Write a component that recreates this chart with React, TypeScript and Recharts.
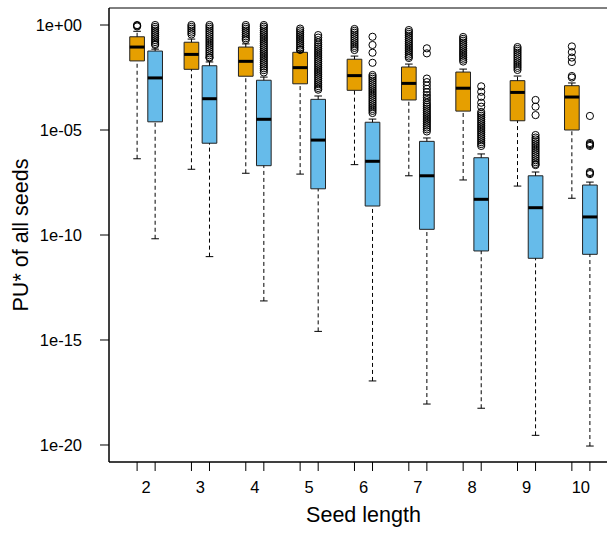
import React from 'react';
import {
  ComposedChart,
  XAxis,
  YAxis,
  Scatter,
  ReferenceArea,
  ReferenceLine,
} from 'recharts';

const seedLengths = [2, 3, 4, 5, 6, 7, 8, 9, 10];

// log10(PU*) per seed length: [lower whisker, Q1, median, Q3, upper whisker]
const orangeBoxes = [
  [-6.37, -1.71, -1.05, -0.56, -0.3],
  [-6.87, -2.11, -1.4, -0.82, -0.67],
  [-7.06, -2.44, -1.73, -1.05, -0.9],
  [-7.1, -2.8, -2.03, -1.3, -1.24],
  [-6.65, -3.11, -2.41, -1.63, -1.48],
  [-7.18, -3.57, -2.78, -2.0, -1.86],
  [-7.38, -4.1, -3.01, -2.24, -2.1],
  [-7.67, -4.56, -3.21, -2.65, -2.43],
  [-8.25, -5.0, -3.43, -2.89, -2.76],
];

const blueBoxes = [
  [-10.18, -4.61, -2.52, -1.24, -1.15],
  [-11.03, -5.63, -3.51, -1.94, -1.76],
  [-13.14, -6.7, -4.49, -2.63, -2.48],
  [-14.59, -7.8, -5.48, -3.54, -3.38],
  [-16.95, -8.62, -6.49, -4.63, -4.48],
  [-18.05, -9.73, -7.18, -5.54, -5.38],
  [-18.25, -10.76, -8.3, -6.32, -6.14],
  [-19.54, -11.11, -8.7, -7.18, -7.0],
  [-20.05, -10.92, -9.14, -7.62, -7.48],
];

// outliers, log10(PU*)
const orangeOutliers = [
  [0, -0.03, -0.07],
  [0, -0.09, -0.18, -0.27, -0.36, -0.45],
  [0, -0.09, -0.18, -0.27, -0.36, -0.45, -0.54, -0.63, -0.71],
  [-0.17, -0.26, -0.35, -0.44, -0.53, -0.62, -0.71, -0.8, -0.89, -0.98, -1.07, -1.16, -1.19],
  [-0.19, -0.28, -0.37, -0.46, -0.55, -0.64, -0.73, -0.82, -0.91, -1.0, -1.09, -1.19],
  [-0.24, -0.33, -0.42, -0.51, -0.6, -0.69, -0.78, -0.87, -0.96, -1.05, -1.14, -1.23, -1.32, -1.41, -1.5, -1.57],
  [-0.57, -0.66, -0.75, -0.84, -0.93, -1.02, -1.11, -1.2, -1.29, -1.38, -1.47, -1.56, -1.65, -1.74],
  [-1.05, -1.14, -1.23, -1.32, -1.41, -1.5, -1.59, -1.68, -1.77, -1.86, -1.95, -2.04, -2.14],
  [-1.02, -1.29, -1.55, -1.76, -2.43, -2.5],
];

const blueOutliers = [
  [0, -0.09, -0.18, -0.27, -0.36, -0.45, -0.54, -0.63, -0.72, -0.81, -0.9, -0.95],
  [0, -0.09, -0.18, -0.27, -0.36, -0.45, -0.54, -0.63, -0.72, -0.81, -0.9, -0.99, -1.08, -1.17, -1.26, -1.35, -1.44, -1.53, -1.57],
  [0, -0.08, -0.17, -0.26, -0.35, -0.44, -0.53, -0.62, -0.71, -0.8, -0.89, -0.98, -1.07, -1.16, -1.25, -1.34, -1.43, -1.52, -1.61, -1.7, -1.79, -1.88, -1.97, -2.06, -2.15, -2.26],
  [-0.48, -0.6, -0.72, -0.83, -0.93, -1.02, -1.11, -1.2, -1.29, -1.38, -1.47, -1.56, -1.65, -1.74, -1.83, -1.92, -2.01, -2.1, -2.19, -2.28, -2.37, -2.46, -2.55, -2.64, -2.73, -2.82, -2.91, -3.0, -3.08],
  [-0.56, -0.95, -1.32, -1.8, -2.38, -2.47, -2.56, -2.65, -2.74, -2.83, -2.92, -3.01, -3.1, -3.19, -3.28, -3.37, -3.46, -3.55, -3.64, -3.73, -3.82, -3.91, -4.0, -4.09, -4.19],
  [-1.11, -1.35, -2.55, -2.72, -2.88, -3.04, -3.2, -3.34, -3.46, -3.58, -3.7, -3.8, -3.89, -3.98, -4.07, -4.16, -4.25, -4.34, -4.43, -4.52, -4.61, -4.7, -4.79, -4.88, -4.97, -5.07],
  [-2.92, -3.18, -3.42, -3.7, -3.89, -4.14, -4.23, -4.32, -4.41, -4.5, -4.59, -4.68, -4.77, -4.86, -4.95, -5.04, -5.13, -5.22, -5.31, -5.4, -5.49, -5.58, -5.67, -5.76],
  [-3.57, -3.89, -4.29, -5.24, -5.36, -5.45, -5.54, -5.63, -5.72, -5.81, -5.9, -5.99, -6.08, -6.17, -6.26, -6.35, -6.44, -6.53, -6.62, -6.67],
  [-4.33, -5.62, -5.67, -5.71, -5.76, -7.0, -7.05, -7.1],
];

const yTicks = [0, -5, -10, -15, -20];

const ORANGE = '#E69F00';
const BLUE = '#66BBEA';
const FONT = '"Liberation Sans", Arial, sans-serif';
const PAIR = 0.166; // offset of each box from the seed length
const HALF_BOX = 0.135;
const HALF_CAP = 0.07;
const X_DOMAIN = [1.317, 10.683];
const Y_DOMAIN = [-20.81, 0.81];

const xTicks = seedLengths.flatMap((g) => [g - PAIR, g, g + PAIR]);

const fmtY = (v: number) => (v === 0 ? '1e+00' : `1e-${String(-v).padStart(2, '0')}`);

function toPoints(lists: number[][], shift: number) {
  return lists.flatMap((vals, i) => vals.map((y) => ({ x: seedLengths[i] + shift, y })));
}

function boxElements(stats: number[], x: number, fill: string, key: string) {
  const [lo, q1, med, q3, hi] = stats;
  const dash = '4 3';
  return [
    <ReferenceLine key={key + 'wl'} segment={[{ x, y: lo }, { x, y: q1 }]} stroke="#000" strokeDasharray={dash} />,
    <ReferenceLine key={key + 'cl'} segment={[{ x: x - HALF_CAP, y: lo }, { x: x + HALF_CAP, y: lo }]} stroke="#000" />,
    <ReferenceLine key={key + 'wh'} segment={[{ x, y: q3 }, { x, y: hi }]} stroke="#000" strokeDasharray={dash} />,
    <ReferenceLine key={key + 'ch'} segment={[{ x: x - HALF_CAP, y: hi }, { x: x + HALF_CAP, y: hi }]} stroke="#000" />,
    <ReferenceArea
      key={key + 'b'}
      x1={x - HALF_BOX}
      x2={x + HALF_BOX}
      y1={q1}
      y2={q3}
      fill={fill}
      fillOpacity={1}
      stroke="#222"
      strokeWidth={1}
    />,
    <ReferenceLine
      key={key + 'm'}
      segment={[{ x: x - HALF_BOX, y: med }, { x: x + HALF_BOX, y: med }]}
      stroke="#000"
      strokeWidth={3}
    />,
  ];
}

const XTick = (props: any) => {
  const { x, y, payload } = props;
  if (Number.isInteger(payload.value)) {
    return (
      <text x={x} y={y + 31} textAnchor="middle" fontSize={16.5} fontFamily={FONT} fill="#000">
        {payload.value}
      </text>
    );
  }
  return <line x1={x} y1={y} x2={x} y2={y + 9} stroke="#000" />;
};

const Circle = (p: any) => (
  <circle cx={p.cx} cy={p.cy} r={3.6} fill="none" stroke="#000" strokeWidth={1} />
);

export default function App() {
  const orangePts = toPoints(orangeOutliers, -PAIR);
  const bluePts = toPoints(blueOutliers, PAIR);

  return (
    <div
      style={{
        position: 'fixed',
        left: 0,
        top: 0,
        width: 607,
        height: 539,
        overflow: 'hidden',
        background: '#fff',
      }}
    >
      <ComposedChart width={620} height={539} margin={{ top: 8, right: 2, bottom: 0, left: 0 }}>
        <XAxis
          type="number"
          dataKey="x"
          domain={X_DOMAIN}
          allowDataOverflow
          ticks={xTicks}
          interval={0}
          tickSize={0}
          tickMargin={0}
          tickLine={false}
          axisLine={{ stroke: '#000' }}
          height={77}
          tick={<XTick />}
          label={{
            content: (p: any) => {
              const vb = p.viewBox;
              return (
                <text
                  x={vb.x + vb.width / 2}
                  y={vb.y + 60}
                  textAnchor="middle"
                  fontSize={21.5}
                  fontFamily={FONT}
                  fill="#000"
                >
                  Seed length
                </text>
              );
            },
          }}
        />
        <YAxis
          type="number"
          dataKey="y"
          domain={Y_DOMAIN}
          allowDataOverflow
          ticks={yTicks}
          interval={0}
          width={109}
          tickSize={9}
          tickMargin={18}
          tickFormatter={fmtY}
          tick={{ fontSize: 16.5, fill: '#000', fontFamily: FONT }}
          tickLine={{ stroke: '#000' }}
          axisLine={{ stroke: '#000' }}
          label={{
            content: (p: any) => {
              const vb = p.viewBox;
              const cx = vb.x + 28;
              const cy = vb.y + vb.height / 2;
              return (
                <text
                  x={cx}
                  y={cy}
                  transform={`rotate(-90 ${cx} ${cy})`}
                  textAnchor="middle"
                  fontSize={21.5}
                  fontFamily={FONT}
                  fill="#000"
                >
                  PU* of all seeds
                </text>
              );
            },
          }}
        />
        <ReferenceArea
          x1={X_DOMAIN[0]}
          x2={X_DOMAIN[1]}
          y1={Y_DOMAIN[0]}
          y2={Y_DOMAIN[1]}
          fill="none"
          stroke="#000"
        />
        {seedLengths.flatMap((g, i) => [
          ...boxElements(orangeBoxes[i], g - PAIR, ORANGE, `o${g}`),
          ...boxElements(blueBoxes[i], g + PAIR, BLUE, `b${g}`),
        ])}
        <Scatter data={orangePts} dataKey="y" shape={<Circle />} isAnimationActive={false} />
        <Scatter data={bluePts} dataKey="y" shape={<Circle />} isAnimationActive={false} />
      </ComposedChart>
    </div>
  );
}
